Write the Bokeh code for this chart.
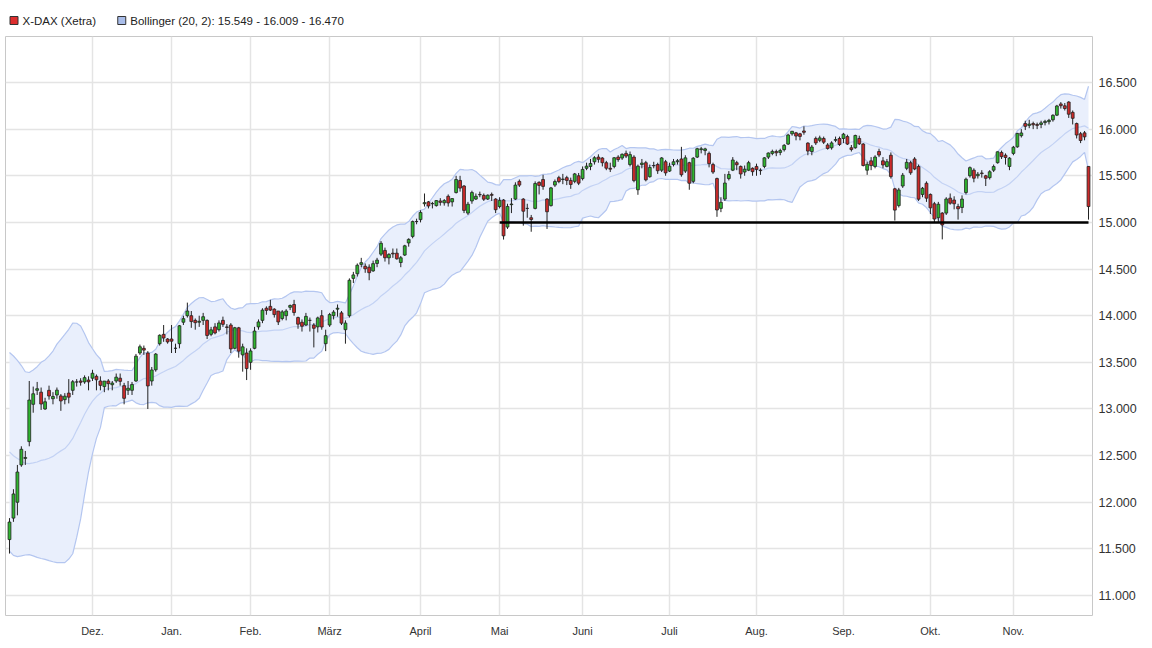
import pandas as pd
from bokeh.plotting import figure
from bokeh.layouts import column
from bokeh.models import ColumnDataSource, Range1d, FixedTicker
from bokeh.core.properties import value
from bokeh.embed import file_html
from bokeh.resources import INLINE

# ---- data (X-DAX daily candles, 2 Nov 2020 .. 26 Nov 2021) ----
# closes of the 19 sessions before the first candle (needed for the 20-day band)
pre_closes = [12906, 12928, 13042, 13051, 13138, 13018, 13028, 12703, 12908, 12854,
              12736, 12557, 12543, 12645, 12178, 12063, 11560, 11598, 11556]

opens = [
    # Nov 2020
    11600, 11830, 12000, 12400, 12470, 12650, 13050, 13200, 13180, 13000, 13200, 13110, 13150, 13140, 13100, 13170, 13200, 13290, 13300, 13290, 13310,
    # Dec
    13330, 13350, 13300, 13240, 13300, 13260, 13300, 13330, 13250, 13200, 13200, 13300, 13600, 13650, 13600, 13300, 13420, 13700, 13800, 13750,
    # Jan 2021
    13750, 13650, 13700, 13930, 14000, 14000, 13950, 13930, 13950, 13950, 13800, 13880, 13850, 13950, 13880, 13900, 13650, 13870, 13580, 13600,
    # Feb
    13500, 13650, 13880, 13950, 14080, 14100, 14070, 14050, 13970, 14000, 14090, 14120, 13980, 13930, 13900, 13950, 13900, 13880, 14000, 13700,
    # Mar
    13900, 14000, 14070, 14030, 13850, 14000, 14400, 14450, 14550, 14530, 14520, 14480, 14560, 14660, 14700, 14620, 14670, 14670, 14570, 14650, 14780, 14850, 15010,
    # Apr
    15030, 15200, 15220, 15200, 15180, 15230, 15210, 15280, 15220, 15320, 15450, 15390, 15100, 15230, 15250, 15300, 15290, 15250, 15300, 15250,
    # May
    15170, 15240, 14950, 15190, 15250, 15440, 15250, 15150, 15050, 15150, 15430, 15460, 15250, 15180, 15400, 15480, 15460, 15480, 15450, 15440, 15500,
    # Jun
    15470, 15580, 15600, 15650, 15700, 15690, 15640, 15580, 15600, 15700, 15690, 15740, 15620, 15700, 15350, 15620, 15640, 15490, 15610, 15620, 15560, 15650,
    # Jul
    15550, 15620, 15650, 15680, 15550, 15640, 15440, 15700, 15780, 15770, 15740, 15620, 15470, 15150, 15250, 15470, 15560, 15640, 15600, 15540, 15560, 15580,
    # Aug
    15600, 15560, 15600, 15700, 15740, 15760, 15750, 15780, 15840, 15950, 15960, 15950, 15980, 15850, 15760, 15900, 15880, 15900, 15830, 15800, 15880, 15900,
    # Sep
    15900, 15920, 15800, 15800, 15900, 15840, 15560, 15660, 15600, 15760, 15660, 15600, 15720, 15360, 15180, 15390, 15580, 15640, 15680, 15600, 15300, 15420,
    # Oct
    15300, 15200, 15050, 15100, 15100, 15260, 15240, 15170, 15160, 15320, 15500, 15560, 15500, 15530, 15500, 15480, 15560, 15640, 15750, 15720, 15600,
    # Nov 2021
    15740, 15810, 15930, 16060, 16040, 16060, 16050, 16050, 16070, 16080, 16100, 16150, 16270, 16250, 16290, 16180, 16060, 15950, 15960, 15600,
]

highs = [
    11830, 12140, 12400, 12600, 12550, 13300, 13240, 13290, 13230, 13120, 13250, 13180, 13230, 13160, 13170, 13320, 13310, 13320, 13330, 13360, 13350,
    13420, 13370, 13350, 13300, 13320, 13300, 13380, 13380, 13280, 13300, 13290, 13590, 13690, 13680, 13620, 13450, 13600, 13800, 13900, 13760,
    13900, 13700, 13900, 14000, 14140, 14050, 13970, 14000, 14030, 13960, 13880, 13920, 13950, 13990, 13910, 13920, 13880, 13880, 13700, 13650,
    13650, 13880, 13960, 14080, 14100, 14170, 14080, 14050, 14060, 14070, 14120, 14170, 13990, 13960, 14030, 13980, 13920, 13990, 14060, 13850,
    14030, 14060, 14120, 14050, 13950, 14400, 14470, 14560, 14620, 14560, 14550, 14590, 14620, 14800, 14730, 14670, 14720, 14720, 14640, 14760, 14830, 15020, 15040,
    15130, 15310, 15230, 15220, 15240, 15260, 15250, 15300, 15260, 15500, 15500, 15400, 15220, 15340, 15310, 15330, 15310, 15300, 15320, 15260,
    15270, 15250, 15200, 15260, 15430, 15460, 15260, 15200, 15080, 15440, 15440, 15510, 15260, 15380, 15460, 15500, 15520, 15500, 15480, 15530, 15530,
    15600, 15640, 15680, 15710, 15730, 15700, 15660, 15640, 15700, 15720, 15740, 15770, 15760, 15720, 15620, 15680, 15660, 15620, 15650, 15640, 15700, 15670,
    15640, 15680, 15680, 15810, 15720, 15650, 15700, 15800, 15810, 15800, 15760, 15640, 15480, 15270, 15520, 15550, 15700, 15660, 15610, 15610, 15660, 15590,
    15630, 15580, 15700, 15750, 15780, 15780, 15790, 15840, 15950, 15980, 15970, 15960, 16030, 15860, 15830, 15920, 15930, 15920, 15850, 15870, 15920, 15920,
    15960, 15940, 15830, 15940, 15930, 15850, 15650, 15700, 15720, 15790, 15700, 15680, 15750, 15370, 15370, 15530, 15680, 15660, 15700, 15620, 15380, 15440,
    15310, 15220, 15220, 15110, 15270, 15310, 15280, 15200, 15290, 15480, 15600, 15580, 15540, 15560, 15510, 15560, 15620, 15760, 15770, 15740, 15700,
    15820, 15960, 16000, 16090, 16100, 16080, 16070, 16090, 16100, 16110, 16160, 16260, 16290, 16280, 16300, 16200, 16070, 15970, 15980, 15600,
]

lows = [
    11450, 11790, 11860, 12380, 12400, 12600, 12960, 13150, 12990, 12990, 13100, 13050, 13110, 12980, 13050, 13060, 13150, 13240, 13250, 13270, 13200,
    13300, 13200, 13200, 13180, 13200, 13200, 13280, 13250, 13050, 13150, 13150, 13290, 13580, 13580, 13000, 13250, 13400, 13680, 13720, 13700,
    13600, 13600, 13650, 13900, 13980, 13870, 13850, 13880, 13900, 13750, 13780, 13800, 13830, 13880, 13800, 13600, 13640, 13550, 13400, 13310,
    13420, 13640, 13850, 13920, 14010, 14050, 13980, 13900, 13950, 13950, 14060, 14000, 13860, 13830, 13890, 13830, 13660, 13820, 13850, 13620,
    13880, 13960, 13990, 13900, 13700, 13980, 14350, 14420, 14520, 14460, 14380, 14470, 14520, 14640, 14580, 14550, 14620, 14600, 14520, 14640, 14740, 14830, 14980,
    15000, 15170, 15150, 15150, 15170, 15180, 15180, 15170, 15170, 15310, 15330, 15100, 15080, 15200, 15240, 15270, 15230, 15240, 15230, 15100,
    15150, 14816, 14930, 15100, 15240, 15380, 14965, 15050, 14900, 15140, 15300, 15350, 14930, 15170, 15380, 15420, 15410, 15400, 15360, 15420, 15400,
    15450, 15560, 15560, 15620, 15640, 15600, 15560, 15540, 15580, 15650, 15670, 15690, 15600, 15430, 15296, 15580, 15440, 15480, 15580, 15520, 15540, 15500,
    15540, 15600, 15620, 15490, 15530, 15350, 15420, 15690, 15740, 15720, 15590, 15520, 15060, 15110, 15230, 15450, 15550, 15560, 15470, 15500, 15550, 15500,
    15500, 15510, 15580, 15680, 15720, 15710, 15720, 15760, 15830, 15930, 15880, 15880, 15940, 15720, 15720, 15830, 15860, 15840, 15780, 15780, 15860, 15820,
    15850, 15830, 15760, 15790, 15830, 15600, 15510, 15560, 15580, 15700, 15580, 15590, 15470, 15020, 15160, 15370, 15560, 15510, 15560, 15230, 15270, 15220,
    15090, 15000, 15000, 14818, 15080, 15190, 15140, 15030, 15100, 15300, 15480, 15430, 15470, 15480, 15390, 15460, 15540, 15630, 15680, 15620, 15560,
    15720, 15800, 15910, 15990, 16010, 16000, 16000, 16010, 16040, 16050, 16080, 16140, 16220, 16200, 16120, 16050, 15900, 15850, 15880, 15030,
]

closes = [
    11788, 12089, 12324, 12568, 12480, 13096, 13163, 13217, 13053, 13077, 13139, 13134, 13202, 13086, 13137, 13127, 13292, 13289, 13286, 13336, 13291,
    13383, 13313, 13253, 13299, 13271, 13278, 13341, 13296, 13114, 13223, 13263, 13566, 13667, 13631, 13247, 13418, 13588, 13790, 13761, 13719,
    13727, 13651, 13892, 13968, 14050, 13937, 13925, 13940, 13989, 13788, 13848, 13815, 13922, 13907, 13874, 13644, 13871, 13620, 13666, 13433,
    13622, 13835, 13933, 14060, 14057, 14060, 14012, 13933, 14041, 14050, 14109, 14034, 13909, 13887, 13993, 13950, 13865, 13976, 13879, 13786,
    14012, 14039, 14080, 13920, 13921, 14380, 14437, 14541, 14569, 14502, 14461, 14558, 14596, 14776, 14621, 14657, 14662, 14610, 14621, 14749, 14818, 15009, 15008,
    15107, 15212, 15176, 15203, 15234, 15215, 15234, 15209, 15255, 15460, 15368, 15129, 15195, 15320, 15280, 15296, 15249, 15292, 15290, 15136,
    15236, 14856, 15171, 15197, 15400, 15400, 15120, 15150, 15031, 15417, 15397, 15386, 15114, 15370, 15438, 15438, 15465, 15450, 15407, 15520, 15421,
    15568, 15603, 15632, 15693, 15677, 15640, 15581, 15571, 15693, 15674, 15730, 15711, 15727, 15448, 15603, 15636, 15456, 15589, 15607, 15554, 15691, 15531,
    15603, 15650, 15661, 15511, 15692, 15420, 15688, 15790, 15789, 15788, 15630, 15540, 15133, 15216, 15422, 15514, 15669, 15618, 15519, 15570, 15640, 15544,
    15568, 15555, 15692, 15744, 15761, 15746, 15770, 15826, 15937, 15977, 15926, 15922, 15966, 15765, 15808, 15852, 15906, 15860, 15793, 15852, 15888, 15835,
    15946, 15840, 15781, 15932, 15843, 15610, 15623, 15609, 15701, 15722, 15616, 15651, 15491, 15132, 15348, 15506, 15644, 15532, 15573, 15249, 15366, 15260,
    15156, 15036, 15195, 14973, 15251, 15206, 15200, 15146, 15250, 15463, 15587, 15474, 15516, 15523, 15473, 15543, 15599, 15757, 15705, 15696, 15689,
    15806, 15954, 15959, 16030, 16054, 16046, 16040, 16067, 16083, 16094, 16148, 16248, 16251, 16221, 16160, 16116, 15937, 15878, 15917, 15170,
]

# first trading session of each month (index into the candle arrays) and labels
month_starts = [21, 41, 61, 81, 104, 124, 145, 167, 189, 211, 233, 254]
month_labels = ["Dez.", "Jan.", "Feb.", "März", "April", "Mai", "Juni", "Juli", "Aug.", "Sep.", "Okt.", "Nov."]

y_ticks = [11000, 11500, 12000, 12500, 13000, 13500, 14000, 14500, 15000, 15500, 16000, 16500]
y_tick_labels = ["11.000", "11.500", "12.000", "12.500", "13.000", "13.500", "14.000", "14.500",
                 "15.000", "15.500", "16.000", "16.500"]

# drawn support line at 15.000 (from first May session to the last session)
support_x = [124, 273]
support_y = [15000, 15000]

legend_labels = ["X-DAX (Xetra)", "Bollinger (20, 2): 15.549 - 16.009 - 16.470"]
legend_colors = ["#dd2e2e", "#a9bde9"]

# ---- derived ----
n = len(closes)
idx = list(range(n))
s = pd.Series(pre_closes + closes, dtype=float)
mid = s.rolling(20).mean().iloc[len(pre_closes):].tolist()
sd = s.rolling(20).std(ddof=0).iloc[len(pre_closes):].tolist()
upper = [m + 2 * d for m, d in zip(mid, sd)]
lower = [m - 2 * d for m, d in zip(mid, sd)]

up = [c >= o for o, c in zip(opens, closes)]
src = ColumnDataSource(dict(
    x=idx, o=opens, h=highs, l=lows, c=closes,
    top=[max(o, c) for o, c in zip(opens, closes)],
    bot=[min(o, c) for o, c in zip(opens, closes)],
    col=["#2fb52f" if u else "#cc2a2a" for u in up],
    upper=upper, lower=lower, mid=mid,
))

FONT = "Liberation Sans"
W = 1150
TOP = 36

# ---- legend strip (pixel coordinates, y upwards) ----
lg = figure(width=W, height=TOP, output_backend="svg", toolbar_location=None,
            x_range=Range1d(0, W), y_range=Range1d(0, TOP),
            min_border=0, outline_line_color=None)
lg.axis.visible = False
lg.grid.visible = False
lg.rect(x=[9, 123], y=[16, 16], width=8, height=8, width_units="screen", height_units="screen",
        fill_color=legend_colors, line_color="#333333", line_width=1)
lg.text(x=[18, 132], y=[16, 16], text=legend_labels, text_font=value(FONT),
        text_font_size="11.5px", text_color="#222222", text_baseline="middle", text_align="left")

# ---- main chart ----
p = figure(width=W, height=604, output_backend="svg", toolbar_location=None,
           x_range=Range1d(-1.01, 274.01), y_range=Range1d(10786, 16993),
           y_axis_location="right", x_axis_location="below",
           min_border_left=5, min_border_top=0, min_border_bottom=25, min_border_right=58)
p.background_fill_color = "white"
p.border_fill_color = "white"
p.outline_line_color = "#c8c8c8"

# band
p.varea(x="x", y1="lower", y2="upper", source=src, fill_color="#e9effc", fill_alpha=1.0)
p.line(x="x", y="upper", source=src, line_color="#b4c6f0", line_width=1.2)
p.line(x="x", y="lower", source=src, line_color="#b4c6f0", line_width=1.2)
p.line(x="x", y="mid", source=src, line_color="#c3d2f4", line_width=1.2)

# candles
p.segment(x0="x", y0="l", x1="x", y1="h", source=src, line_color="#222222", line_width=1)
p.vbar(x="x", width=0.72, top="top", bottom="bot", source=src,
       fill_color="col", line_color="#222222", line_width=0.8)

# support line
p.line(x=support_x, y=support_y, line_color="black", line_width=2.5)

# axes
p.xaxis.ticker = FixedTicker(ticks=month_starts)
p.xaxis.major_label_overrides = {k: v for k, v in zip(month_starts, month_labels)}
p.yaxis.ticker = FixedTicker(ticks=y_ticks)
p.yaxis.major_label_overrides = {k: v for k, v in zip(y_ticks, y_tick_labels)}
for ax in (p.xaxis, p.yaxis):
    ax.axis_line_color = None
    ax.major_tick_line_color = None
    ax.minor_tick_line_color = None
    ax.major_label_text_font = FONT
    ax.major_label_text_color = "#333333"
p.xaxis.major_label_text_font_size = "11px"
p.yaxis.major_label_text_font_size = "12.5px"
p.xaxis.major_label_standoff = 3
p.yaxis.major_label_standoff = 0

p.xgrid.ticker = FixedTicker(ticks=month_starts)
p.ygrid.ticker = FixedTicker(ticks=y_ticks)
p.xgrid.grid_line_color = "#e4e4e4"
p.ygrid.grid_line_color = "#e4e4e4"
p.xgrid.grid_line_width = 1.5
p.ygrid.grid_line_width = 1.5

open("out.html", "w").write(file_html(column(lg, p, spacing=0), INLINE))
